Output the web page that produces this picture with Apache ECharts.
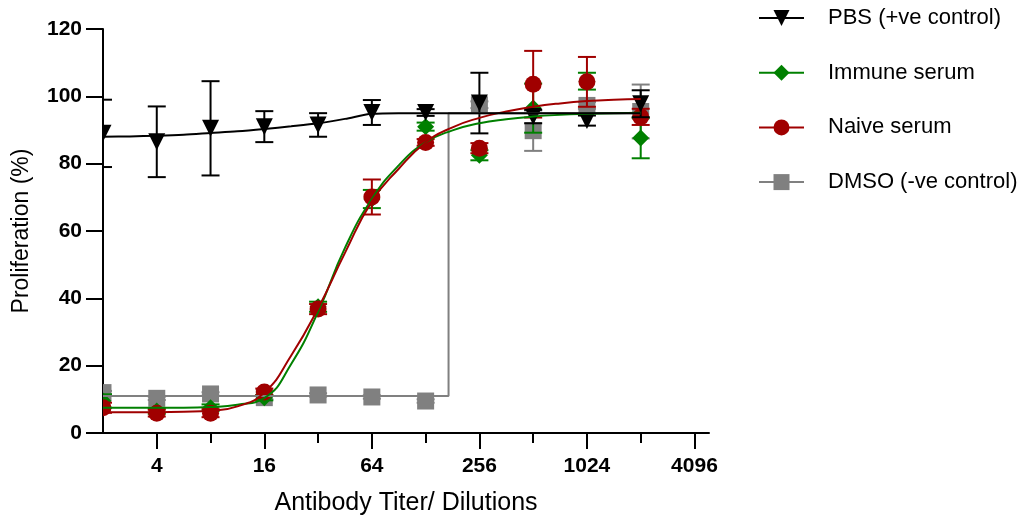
<!DOCTYPE html>
<html>
<head>
<meta charset="utf-8">
<script src="https://cdn.jsdelivr.net/npm/echarts@6/dist/echarts.min.js"></script>
<style>
  html, body { margin: 0; padding: 0; background: #fff; }
  #chart { width: 1023px; height: 521px; }
</style>
</head>
<body>
<div id="chart"></div>
<script>
// dilutions (x values)
const titers = [2, 4, 8, 16, 32, 64, 128, 256, 512, 1024, 2048]
const tickExponents = [2, 4, 6, 8, 10, 12]
const minorExponents = [3, 5, 7, 9, 11]

// means and error bar half-lengths (%)
const pbsMean = [89, 86.5, 90.5, 91, 91.5, 95.2, 95.2, 98, 94, 92.8, 97.8]
const pbsErr = [10, 10.5, 14, 4.6, 3.5, 3.7, 1, 9, 2, 1.5, 4]
const immuneMean = [9.5, 6.5, 7.5, 10.5, 37.5, 69.5, 91, 82.5, 96.5, 104.5, 87.6]
const immuneErr = [2, 0.8, 1, 0.8, 1.5, 2.7, 1.2, 1.5, 7.3, 2.5, 6]
const naiveMean = [7.5, 5.9, 5.9, 12.2, 36.8, 70.1, 86.3, 84.6, 103.6, 104.3, 93.9]
const naiveErr = [1.5, 1, 1.2, 1, 1.5, 5.2, 1, 1.5, 9.9, 7.4, 2.4]
const dmsoMean = [12, 10.3, 11.6, 10.5, 11.3, 10.7, 9.5, 97.5, 89.8, 97.3, 95.5]
const dmsoErr = [0.5, 0.5, 0.5, 0.5, 0.5, 0.5, 0.5, 1, 6, 1, 8]

// fitted curves (x in log2 units)
const fitLog2 = [1, 1.5, 2, 2.5, 3, 3.5, 4, 4.5, 5, 5.5, 6, 6.5, 7, 7.5, 8, 8.5, 9, 9.5, 10, 10.5, 11]
const pbsFit = [88, 88.1, 88.3, 88.6, 89.1, 89.6, 90.3, 91.1, 92, 93.3, 94.8, 95, 95, 95, 95, 95, 95, 95, 95, 95, 95]
const immuneFit = [7.5, 7.5, 7.5, 7.5, 7.7, 8.4, 10.4, 20.5, 36, 55, 69.5, 79.5, 86.3, 89.9, 92, 93.2, 94, 94.5, 94.8, 95, 95.1]
const naiveFit = [6.2, 6.2, 6.2, 6.3, 6.6, 7.9, 12, 23, 37, 53.5, 68.8, 78.5, 86.3, 90.8, 93.6, 95.5, 96.9, 97.9, 98.6, 99, 99.2]
// DMSO fit is a step
const dmsoStepTiter = 172
const dmsoLow = 11
const dmsoHigh = 95

const FONT = 'Liberation Sans, Arial, sans-serif'
const R = 8.5 // marker half size

const groups = [
  { name: 'DMSO (-ve control)', color: '#808080', symbol: 'rect', rotate: 0, mean: dmsoMean, err: dmsoErr, smooth: false,
    fit: [[1, dmsoLow], [Math.log2(dmsoStepTiter), dmsoLow], [Math.log2(dmsoStepTiter), dmsoHigh], [11, dmsoHigh]] },
  { name: 'Immune serum', color: '#008000', symbol: 'diamond', rotate: 0, mean: immuneMean, err: immuneErr, smooth: 0.5,
    fit: fitLog2.map((x, i) => [x, immuneFit[i]]) },
  { name: 'Naive serum', color: '#a00000', symbol: 'circle', rotate: 0, mean: naiveMean, err: naiveErr, smooth: 0.5,
    fit: fitLog2.map((x, i) => [x, naiveFit[i]]) },
  { name: 'PBS (+ve control)', color: '#000000', symbol: 'triangle', rotate: 180, mean: pbsMean, err: pbsErr, smooth: 0.3,
    fit: fitLog2.map((x, i) => [x, pbsFit[i]]) }
]

function errorBars(color) {
  return function (params, api) {
    const x = api.value(0)
    const top = api.coord([x, api.value(2)])
    const bottom = api.coord([x, api.value(1)])
    const style = { stroke: color, lineWidth: 2 }
    return {
      type: 'group',
      children: [
        { type: 'line', shape: { x1: top[0], y1: top[1], x2: bottom[0], y2: bottom[1] }, style },
        { type: 'line', shape: { x1: top[0] - 9, y1: top[1], x2: top[0] + 9, y2: top[1] }, style },
        { type: 'line', shape: { x1: bottom[0] - 9, y1: bottom[1], x2: bottom[0] + 9, y2: bottom[1] }, style }
      ]
    }
  }
}

// markers drawn as custom shapes so the ones on the axis get clipped like the original
function markers(symbol, color) {
  return function (params, api) {
    const p = api.coord([api.value(0), api.value(1)])
    const cx = p[0], cy = p[1]
    const style = { fill: color }
    if (symbol === 'circle') return { type: 'circle', shape: { cx, cy, r: R }, style }
    if (symbol === 'rect') return { type: 'rect', shape: { x: cx - R, y: cy - R, width: 2 * R, height: 2 * R }, style }
    if (symbol === 'diamond') {
      return { type: 'polygon', shape: { points: [[cx, cy - R], [cx + R, cy], [cx, cy + R], [cx - R, cy]] }, style }
    }
    return { type: 'polygon', shape: { points: [[cx - R, cy - R], [cx + R, cy - R], [cx, cy + R]] }, style }
  }
}

const series = []
groups.forEach(g => {
  series.push({
    name: g.name + ' fit',
    type: 'line',
    data: g.fit,
    symbol: 'none',
    smooth: g.smooth,
    lineStyle: { color: g.color, width: 2 },
    silent: true
  })
  series.push({
    name: g.name + ' error',
    type: 'custom',
    clip: true,
    renderItem: errorBars(g.color),
    encode: { x: 0, y: [1, 2] },
    data: titers.map((t, i) => [Math.log2(t), g.mean[i] - g.err[i], g.mean[i] + g.err[i]])
  })
  series.push({
    name: g.name + ' points',
    type: 'custom',
    clip: true,
    renderItem: markers(g.symbol, g.color),
    encode: { x: 0, y: 1 },
    data: titers.map((t, i) => [Math.log2(t), g.mean[i]])
  })
  // legend entry only
  series.push({
    name: g.name,
    type: 'line',
    data: [],
    symbol: g.symbol,
    symbolRotate: g.rotate,
    itemStyle: { color: g.color },
    lineStyle: { color: g.color, width: 2 }
  })
})

const chart = echarts.init(document.getElementById('chart'))
chart.setOption({
  animation: false,
  grid: { left: 103, top: 29, width: 606, height: 404 },
  legend: {
    orient: 'vertical',
    left: 758,
    top: 7,
    padding: 0,
    itemWidth: 45,
    itemHeight: 20,
    itemGap: 32.7,
    textStyle: { fontFamily: FONT, fontSize: 22, lineHeight: 22, color: '#000', padding: [0, 0, 0, 19] },
    data: ['PBS (+ve control)', 'Immune serum', 'Naive serum', 'DMSO (-ve control)'].map(n => ({
      name: n, lineStyle: { width: 2, opacity: 1 }
    }))
  },
  xAxis: [
    {
      type: 'value',
      min: 1,
      max: 12.27,
      name: 'Antibody Titer/ Dilutions',
      nameLocation: 'middle',
      nameGap: 58,
      nameTextStyle: { fontFamily: FONT, fontSize: 25, color: '#000' },
      axisLine: { show: true, lineStyle: { color: '#000', width: 2 } },
      axisTick: { show: true, length: 16, lineStyle: { width: 2, color: '#000' }, customValues: tickExponents },
      axisLabel: {
        customValues: tickExponents,
        margin: 23,
        fontFamily: FONT,
        fontSize: 21,
        fontWeight: 'bold',
        color: '#000',
        formatter: v => String(Math.pow(2, v))
      },
      splitLine: { show: false }
    },
    {
      type: 'value',
      min: 1,
      max: 12.27,
      position: 'bottom',
      axisLine: { show: false },
      axisTick: { show: true, length: 10, lineStyle: { width: 2, color: '#000' }, customValues: minorExponents },
      axisLabel: { show: false },
      splitLine: { show: false }
    }
  ],
  yAxis: {
    type: 'value',
    min: 0,
    max: 120,
    interval: 20,
    name: 'Proliferation (%)',
    nameLocation: 'middle',
    nameGap: 70,
    nameTextStyle: { fontFamily: FONT, fontSize: 23, color: '#000' },
    axisLine: { show: true, lineStyle: { color: '#000', width: 2 } },
    axisTick: { show: true, length: 17, lineStyle: { width: 2, color: '#000' } },
    axisLabel: { margin: 21, fontFamily: FONT, fontSize: 21, fontWeight: 'bold', color: '#000' },
    splitLine: { show: false }
  },
  series: series
})
</script>
</body>
</html>
